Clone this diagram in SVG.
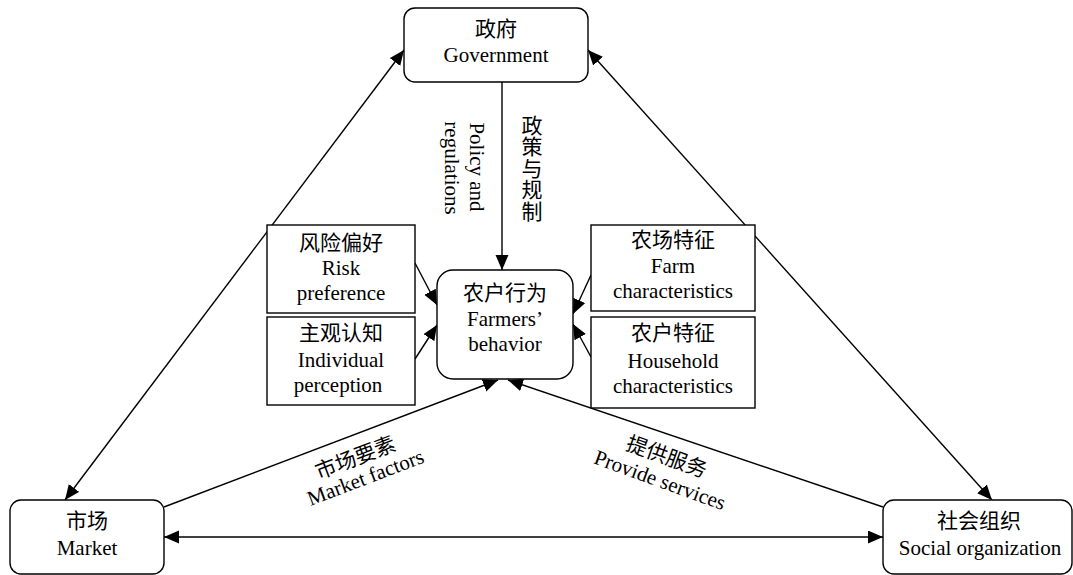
<svg xmlns="http://www.w3.org/2000/svg" width="1073" height="575" viewBox="0 0 1073 575">
<defs>
<style>
text{font-family:"Liberation Serif","Noto Sans CJK SC",serif;font-size:21px;fill:#000;text-anchor:middle}
.vt{writing-mode:vertical-rl;letter-spacing:0.5px}
.box{fill:#fff;stroke:#000;stroke-width:1.4}
.ln{fill:none;stroke:#000;stroke-width:1.4}
</style>
<marker id="ah" markerUnits="userSpaceOnUse" markerWidth="16" markerHeight="14" refX="15" refY="6.5" orient="auto-start-reverse">
<path d="M0,0 L15,6.5 L0,13 z" fill="#000"/>
</marker>
</defs>
<rect width="1073" height="575" fill="#fff"/>
<g id="connectors">
<line class="ln" x1="404" y1="50" x2="65" y2="500" marker-start="url(#ah)" marker-end="url(#ah)"/>
<line class="ln" x1="588" y1="50" x2="992" y2="500" marker-start="url(#ah)" marker-end="url(#ah)"/>
<line class="ln" x1="164" y1="537" x2="883" y2="537" marker-start="url(#ah)" marker-end="url(#ah)"/>
<line class="ln" x1="502" y1="82" x2="502" y2="270" marker-end="url(#ah)"/>
<line class="ln" x1="164" y1="507" x2="498" y2="380" marker-end="url(#ah)"/>
<line class="ln" x1="883" y1="507" x2="508" y2="380" marker-end="url(#ah)"/>
<line class="ln" x1="415" y1="263" x2="437" y2="305" marker-end="url(#ah)"/>
<line class="ln" x1="415" y1="359" x2="437" y2="325" marker-end="url(#ah)"/>
<line class="ln" x1="591" y1="275" x2="573" y2="314" marker-end="url(#ah)"/>
<line class="ln" x1="591" y1="357" x2="573" y2="324" marker-end="url(#ah)"/>
<text transform="translate(470,167) rotate(90)">Policy and</text>
<text transform="translate(445,168) rotate(90)">regulations</text>
<text class="vt" x="530" y="168">政策与规制</text>
<text transform="translate(358,464.5) rotate(-21)">市场要素</text>
<text transform="translate(368,484) rotate(-21)">Market factors</text>
<text transform="translate(664.3,463.5) rotate(20)">提供服务</text>
<text transform="translate(657.6,486.7) rotate(20)">Provide services</text>
</g>
<g id="government">
<rect class="box" x="404" y="8" width="184" height="74" rx="11"/>
<text x="496" y="36">政府</text>
<text x="496" y="62">Government</text>
</g>
<g id="farmers">
<rect class="box" x="437" y="270" width="136" height="109" rx="16"/>
<text x="505" y="300">农户行为</text>
<text x="505" y="326">Farmers’</text>
<text x="505" y="351">behavior</text>
</g>
<g id="risk">
<rect class="box" x="267" y="225" width="148" height="88"/>
<text x="341" y="250">风险偏好</text>
<text x="341" y="275">Risk</text>
<text x="341" y="300">preference</text>
</g>
<g id="individual">
<rect class="box" x="267" y="317" width="148" height="88"/>
<text x="341" y="340">主观认知</text>
<text x="341" y="367">Individual</text>
<text x="338" y="392">perception</text>
</g>
<g id="farm">
<rect class="box" x="591" y="225" width="164" height="86"/>
<text x="673" y="247">农场特征</text>
<text x="673" y="273">Farm</text>
<text x="673" y="298">characteristics</text>
</g>
<g id="household">
<rect class="box" x="591" y="317" width="164" height="91"/>
<text x="673" y="340">农户特征</text>
<text x="673" y="368">Household</text>
<text x="673" y="393">characteristics</text>
</g>
<g id="market">
<rect class="box" x="10" y="500" width="154" height="74" rx="11"/>
<text x="87" y="528">市场</text>
<text x="87" y="555">Market</text>
</g>
<g id="social">
<rect class="box" x="883" y="500" width="189" height="74" rx="11"/>
<text x="979" y="528">社会组织</text>
<text x="980" y="555">Social organization</text>
</g>
</svg>
